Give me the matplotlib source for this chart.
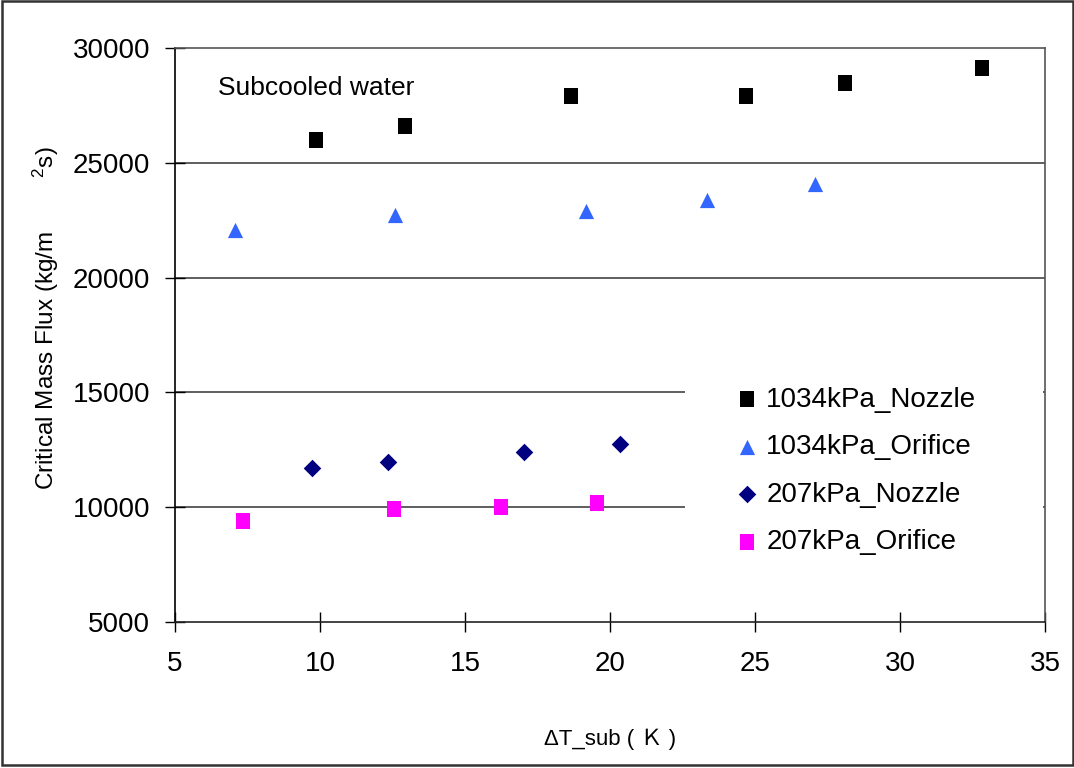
import matplotlib
matplotlib.use('Agg')
import matplotlib.pyplot as plt
from matplotlib.patches import Rectangle

plt.rcParams.update({
    'font.family': ['Liberation Sans', 'DejaVu Sans'],
    'mathtext.fontset': 'custom',
    'mathtext.rm': 'Liberation Sans',
    'mathtext.it': 'Liberation Sans',
})

# Data
x_1034_nozzle = [9.86, 12.93, 18.66, 24.69, 28.1, 32.83]
y_1034_nozzle = [26000, 26600, 27910, 27910, 28480, 29130]

x_1034_orifice = [7.07, 12.59, 19.17, 23.34, 27.07]
y_1034_orifice = [22070, 22730, 22900, 23380, 24080]

x_207_nozzle = [9.72, 12.34, 17.03, 20.34]
y_207_nozzle = [11710, 11970, 12400, 12750]

x_207_orifice = [7.34, 12.55, 16.24, 19.55]
y_207_orifice = [9400, 9920, 10010, 10180]

xticks = [5, 10, 15, 20, 25, 30, 35]
yticks = [5000, 10000, 15000, 20000, 25000, 30000]

# slightly tall square, like the Excel marker
tall_sq = [(-0.85, -1), (0.85, -1), (0.85, 1), (-0.85, 1), (-0.85, -1)]

fig = plt.figure(figsize=(10.74, 7.68), dpi=100)
ax = fig.add_axes([0.163, 0.190, 0.810, 0.7475])

ax.scatter(x_1034_nozzle, y_1034_nozzle, marker=tall_sq, s=135, color='black',
           label='1034kPa_Nozzle', zorder=3, linewidths=0)
ax.scatter(x_1034_orifice, y_1034_orifice, marker='^', s=120, color='#3366FF',
           label='1034kPa_Orifice', zorder=3, linewidths=0)
ax.scatter(x_207_nozzle, y_207_nozzle, marker='D', s=80, color='#000080',
           label='207kPa_Nozzle', zorder=3, linewidths=0)
ax.scatter(x_207_orifice, y_207_orifice, marker=tall_sq, s=135, color='#FF00FF',
           label='207kPa_Orifice', zorder=3, linewidths=0)

ax.set_xlim(5, 35)
ax.set_ylim(5000, 30000)
ax.set_xticks(xticks)
ax.set_yticks(yticks)
ax.tick_params(direction='inout', length=14, width=1, labelsize=20)
ax.tick_params(axis='x', pad=14)
ax.tick_params(axis='y', pad=11)

ax.spines['left'].set_linewidth(1.2)
ax.spines['bottom'].set_linewidth(1.2)
ax.spines['bottom'].set_color('#222222')
for s in ['top', 'right']:
    ax.spines[s].set_color('#555555')
    ax.spines[s].set_linewidth(1.2)

for yv in yticks[1:-1]:
    ax.axhline(yv, color='#333333', lw=1.1, zorder=1)

ax.text(0.049, 0.930, 'Subcooled water', transform=ax.transAxes, fontsize=19,
        ha='left', va='center')

# white legend area hiding the grid lines
ax.add_patch(Rectangle((0.586, 0.082), 0.412, 0.366, transform=ax.transAxes,
                       facecolor='white', edgecolor='none', zorder=2))

leg = ax.legend(loc='upper left', bbox_to_anchor=(0.619, 0.439), fontsize=20,
                frameon=False, handletextpad=0.1, labelspacing=0.77,
                borderpad=0.6, handlelength=1.2, borderaxespad=0)
leg.set_zorder(5)

ax.set_ylabel('Critical Mass Flux (kg/m        $^{2}$s)', fontsize=17.5)
ax.yaxis.set_label_coords(-0.131, 0.53)
ax.set_xlabel('ΔT_sub ( Ｋ )', fontsize=16,
              family=['Liberation Sans', 'Noto Sans CJK JP'])
ax.xaxis.set_label_coords(0.5, -0.185)

fig.patches.append(Rectangle((0.002, 0.004), 0.997, 0.995, transform=fig.transFigure,
                             fill=False, edgecolor='#333333', lw=1.8))

fig.savefig('out.png', dpi=100, facecolor='white')
